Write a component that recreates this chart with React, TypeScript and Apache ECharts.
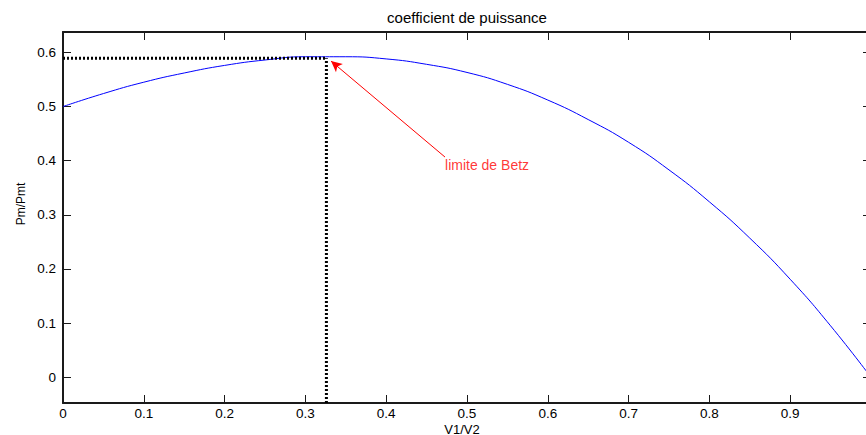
import React, { useEffect, useRef } from "react";
import * as echarts from "echarts";

// V1/V2 ratio and Pm/Pmt values
const ratioV1V2 = [0, 0.05, 0.1, 0.15, 0.2, 0.25, 0.3, 0.35, 0.4, 0.45, 0.5, 0.55, 0.6, 0.65, 0.7, 0.75, 0.8, 0.85, 0.9, 0.95, 1.0];
const powerRatio = [0.5, 0.524, 0.545, 0.562, 0.576, 0.586, 0.592, 0.592, 0.588, 0.578, 0.563, 0.541, 0.512, 0.476, 0.434, 0.383, 0.324, 0.257, 0.181, 0.095, 0.0];

const xTickValues = [0, 0.1, 0.2, 0.3, 0.4, 0.5, 0.6, 0.7, 0.8, 0.9];
const yTickValues = [0, 0.1, 0.2, 0.3, 0.4, 0.5, 0.6];

const xRange = [0, 1];
const yRange = [-0.0475, 0.6377];

// Betz limit guide point and annotation
const betzPoint = [0.326, 0.589];
const arrowStart = [0.4728, 0.4067];
const arrowEnd = [0.3317, 0.584];
const labelAnchor = [0.4728, 0.392];
const labelText = "limite de Betz";

const titleText = "coefficient de puissance";
const xName = "V1/V2";
const yName = "Pm/Pmt";

const FONT = '"Liberation Sans", Arial, Helvetica, sans-serif';

export default function App() {
  const ref = useRef<HTMLDivElement>(null);

  useEffect(() => {
    if (!ref.current) return;
    const chart = echarts.init(ref.current, undefined, { renderer: "svg" });

    const axisLine = { show: true, onZero: false, lineStyle: { color: "#1a1a1a", width: 2 } };
    const tick = {
      show: true,
      inside: true,
      length: 8,
      lineStyle: { color: "#1a1a1a", width: 1 },
    };

    chart.setOption({
      animation: false,
      backgroundColor: "#ffffff",
      textStyle: { fontFamily: FONT },
      grid: {
        left: 63,
        top: 32,
        width: 808,
        height: 371,
        containLabel: false,
        outerBoundsMode: "none",
      },
      xAxis: [
        {
          type: "value",
          position: "bottom",
          min: xRange[0],
          max: xRange[1],
          interval: 0.1,
          axisLine,
          axisTick: { ...tick, customValues: xTickValues },
          axisLabel: {
            customValues: xTickValues,
            margin: 4,
            color: "#000",
            fontSize: 13.5,
            lineHeight: 13,
            fontFamily: FONT,
          },
          splitLine: { show: false },
        },
        {
          type: "value",
          position: "top",
          min: xRange[0],
          max: xRange[1],
          interval: 0.1,
          axisLine,
          axisTick: { ...tick, customValues: xTickValues },
          axisLabel: { show: false },
          splitLine: { show: false },
        },
      ],
      yAxis: [
        {
          type: "value",
          position: "left",
          min: yRange[0],
          max: yRange[1],
          axisLine,
          axisTick: { ...tick, customValues: yTickValues },
          axisLabel: {
            customValues: yTickValues,
            margin: 7,
            color: "#000",
            fontSize: 13.5,
            fontFamily: FONT,
          },
          splitLine: { show: false },
        },
        {
          type: "value",
          position: "right",
          min: yRange[0],
          max: yRange[1],
          axisLine,
          axisTick: { ...tick, customValues: yTickValues },
          axisLabel: { show: false },
          splitLine: { show: false },
        },
      ],
      series: [
        {
          type: "line",
          xAxisIndex: 0,
          yAxisIndex: 0,
          data: ratioV1V2.map((x, i) => [x, powerRatio[i]]),
          showSymbol: false,
          smooth: true,
          lineStyle: { color: "#0000ff", width: 1 },
          z: 3,
          markLine: {
            silent: true,
            symbol: ["none", "arrow"],
            symbolSize: [8, 11],
            label: { show: false },
            lineStyle: { color: "#ff0000", width: 1, type: "solid" },
            data: [[{ coord: arrowStart }, { coord: arrowEnd }]],
          },
        },
        {
          type: "line",
          data: [[xRange[0], betzPoint[1]], [betzPoint[0], betzPoint[1]]],
          showSymbol: false,
          lineStyle: { color: "#000", width: 3, type: [2, 2] },
          z: 4,
        },
        {
          type: "line",
          data: [[betzPoint[0], yRange[0]], [betzPoint[0], betzPoint[1]]],
          showSymbol: false,
          lineStyle: { color: "#000", width: 3, type: [2, 2] },
          z: 4,
        },
        {
          type: "scatter",
          data: [labelAnchor],
          symbolSize: 0,
          silent: true,
          label: {
            show: true,
            position: "right",
            distance: 0,
            formatter: labelText,
            color: "#ff0000",
            fontSize: 14,
            fontFamily: FONT,
          },
        },
      ],
      graphic: [
        {
          type: "text",
          x: 467,
          y: 17,
          style: {
            text: titleText,
            fill: "#000",
            font: `15px ${FONT}`,
            align: "center",
            verticalAlign: "middle",
          },
        },
        {
          type: "text",
          x: 462,
          y: 429,
          style: {
            text: xName,
            fill: "#000",
            font: `13px ${FONT}`,
            align: "center",
            verticalAlign: "middle",
          },
        },
        {
          type: "text",
          x: 21,
          y: 204,
          rotation: Math.PI / 2,
          style: {
            text: yName,
            fill: "#000",
            font: `12px ${FONT}`,
            align: "center",
            verticalAlign: "middle",
          },
        },
      ],
    });

    return () => chart.dispose();
  }, []);

  return (
    <div
      ref={ref}
      style={{ position: "fixed", left: 0, top: 0, width: 866, height: 435 }}
    />
  );
}
